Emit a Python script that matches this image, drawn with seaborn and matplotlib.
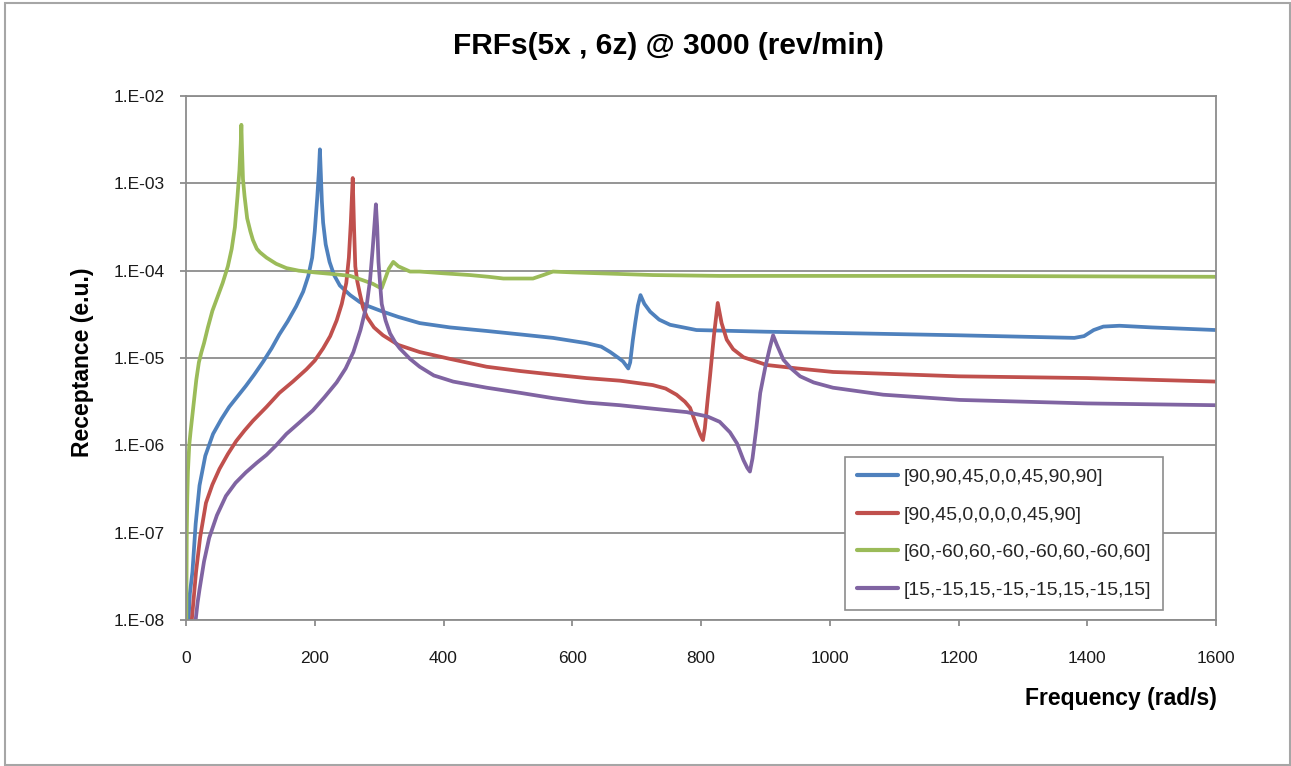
import numpy as np
import pandas as pd
import matplotlib
matplotlib.use("Agg")
import matplotlib.pyplot as plt
import seaborn as sns
from matplotlib.patches import Rectangle
from matplotlib.lines import Line2D
from matplotlib.ticker import NullLocator

# ---------------- data ----------------
series_labels = [
    "[90,90,45,0,0,45,90,90]",
    "[90,45,0,0,0,0,45,90]",
    "[60,-60,60,-60,-60,60,-60,60]",
    "[15,-15,15,-15,-15,15,-15,15]",
]
series_colors = ["#4F81BD", "#C0504D", "#9BBB59", "#8064A2"]

blue_freq = [4, 6, 10, 15, 21, 30, 42, 55, 67, 80, 93, 106, 120, 133, 145, 158, 171, 182,
             190, 196, 200, 204, 206.5, 208, 209.5, 211, 213, 217, 223, 230, 239, 255,
             270, 281, 306, 330, 363, 410, 467, 520, 570, 622, 645, 659, 672, 679, 684,
             687, 690, 694, 698, 702, 706, 712, 721, 735, 752, 793, 900, 1050, 1200,
             1380, 1395, 1410, 1425, 1450, 1500, 1600]
blue_rec = [1.0e-8, 2.0e-8, 3.55e-8, 1.26e-7, 3.47e-7, 7.6e-7, 1.35e-6, 2.0e-6, 2.75e-6,
            3.63e-6, 4.79e-6, 6.46e-6, 9.12e-6, 1.29e-5, 1.86e-5, 2.63e-5, 3.89e-5,
            5.75e-5, 8.71e-5, 1.41e-4, 2.82e-4, 7.08e-4, 1.41e-3, 2.45e-3, 1.26e-3,
            6.31e-4, 3.55e-4, 2.0e-4, 1.26e-4, 8.91e-5, 6.76e-5, 5.25e-5, 4.37e-5,
            3.98e-5, 3.39e-5, 2.95e-5, 2.51e-5, 2.24e-5, 2.04e-5, 1.86e-5, 1.70e-5,
            1.48e-5, 1.35e-5, 1.17e-5, 1.0e-5, 9.12e-6, 8.13e-6, 7.59e-6, 8.91e-6,
            1.58e-5, 2.57e-5, 3.98e-5, 5.25e-5, 4.17e-5, 3.39e-5, 2.75e-5, 2.40e-5,
            2.09e-5, 2.0e-5, 1.91e-5, 1.82e-5, 1.70e-5, 1.78e-5, 2.09e-5, 2.29e-5,
            2.34e-5, 2.24e-5, 2.09e-5]

red_freq = [9, 12, 15.6, 22, 31, 41, 52, 65, 78, 91, 104, 125, 145, 166, 187, 200, 213,
            224, 234, 242, 249, 253, 256, 259, 261, 263, 266, 270, 275, 281, 292, 306,
            330, 363, 410, 467, 520, 570, 622, 674, 725, 745, 762, 775, 783, 793, 799,
            803, 806, 810, 814, 820, 826, 832, 840, 850, 866, 902, 950, 1005, 1200,
            1400, 1600]
red_rec = [1.0e-8, 1.78e-8, 3.55e-8, 8.91e-8, 2.19e-7, 3.55e-7, 5.37e-7, 7.94e-7,
           1.12e-6, 1.48e-6, 1.91e-6, 2.75e-6, 3.98e-6, 5.37e-6, 7.41e-6, 9.33e-6,
           1.29e-5, 1.78e-5, 2.69e-5, 4.17e-5, 7.24e-5, 1.41e-4, 3.55e-4, 1.15e-3,
           3.16e-4, 1.12e-4, 7.59e-5, 5.50e-5, 3.80e-5, 2.95e-5, 2.24e-5, 1.82e-5,
           1.41e-5, 1.17e-5, 9.77e-6, 7.94e-6, 7.08e-6, 6.46e-6, 5.89e-6, 5.50e-6,
           4.90e-6, 4.47e-6, 3.80e-6, 3.16e-6, 2.69e-6, 1.70e-6, 1.32e-6, 1.15e-6,
           1.58e-6, 3.16e-6, 6.17e-6, 1.78e-5, 4.27e-5, 2.51e-5, 1.62e-5, 1.26e-5,
           1.02e-5, 8.32e-6, 7.59e-6, 6.92e-6, 6.17e-6, 5.89e-6, 5.37e-6]

green_freq = [0.5, 1.2, 2, 3, 5, 7, 10, 13, 16, 20, 24, 28, 34, 41, 49, 57, 65, 71, 76,
              80, 83, 85, 86, 87, 88.5, 91, 95, 100, 104, 110, 115, 125, 140, 156, 175,
              200, 230, 255, 275, 290, 300, 304, 308, 315, 322, 330, 348, 363, 400, 441,
              470, 493, 539, 555, 570, 601, 725, 829, 1200, 1600]
green_rec = [1.0e-8, 1.0e-7, 2.51e-7, 5.01e-7, 1.0e-6, 1.41e-6, 2.24e-6, 3.55e-6,
             5.62e-6, 8.91e-6, 1.17e-5, 1.48e-5, 2.24e-5, 3.47e-5, 5.01e-5, 7.24e-5,
             1.12e-4, 1.78e-4, 3.16e-4, 7.08e-4, 1.41e-3, 2.82e-3, 4.68e-3, 2.51e-3,
             1.12e-3, 7.08e-4, 3.98e-4, 2.82e-4, 2.24e-4, 1.78e-4, 1.62e-4, 1.41e-4,
             1.20e-4, 1.07e-4, 1.0e-4, 9.55e-5, 9.12e-5, 8.71e-5, 7.76e-5, 7.08e-5,
             6.46e-5, 6.31e-5, 7.59e-5, 1.05e-4, 1.26e-4, 1.12e-4, 9.77e-5, 9.77e-5,
             9.33e-5, 8.91e-5, 8.51e-5, 8.13e-5, 8.13e-5, 8.91e-5, 9.77e-5, 9.55e-5,
             8.91e-5, 8.71e-5, 8.71e-5, 8.51e-5]

purple_freq = [15, 18, 21, 28, 36, 48, 62, 77, 93, 110, 125, 140, 156, 176, 197, 215, 234,
               248, 260, 271, 281, 286, 290, 293, 295, 297, 299, 301.5, 304, 310, 317,
               325, 332, 348, 363, 385, 415, 467, 520, 570, 622, 674, 725, 778, 810, 829,
               845, 856, 866, 872, 876, 880, 886, 892, 900, 907, 912, 918, 928, 940, 954,
               975, 1005, 1083, 1202, 1400, 1600]
purple_rec = [1.0e-8, 1.58e-8, 2.24e-8, 4.68e-8, 8.71e-8, 1.58e-7, 2.63e-7, 3.72e-7,
              4.90e-7, 6.31e-7, 7.76e-7, 1.0e-6, 1.35e-6, 1.82e-6, 2.51e-6, 3.55e-6,
              5.25e-6, 7.59e-6, 1.17e-5, 2.09e-5, 4.17e-5, 7.94e-5, 1.78e-4, 3.55e-4,
              5.75e-4, 3.16e-4, 1.26e-4, 7.08e-5, 4.17e-5, 2.69e-5, 1.91e-5, 1.51e-5,
              1.29e-5, 9.77e-6, 7.94e-6, 6.31e-6, 5.37e-6, 4.57e-6, 3.98e-6, 3.47e-6,
              3.09e-6, 2.88e-6, 2.63e-6, 2.40e-6, 2.14e-6, 1.86e-6, 1.41e-6, 1.05e-6,
              6.76e-7, 5.50e-7, 5.01e-7, 7.08e-7, 1.58e-6, 3.98e-6, 7.94e-6, 1.32e-5,
              1.82e-5, 1.41e-5, 9.55e-6, 7.59e-6, 6.17e-6, 5.25e-6, 4.57e-6, 3.80e-6,
              3.31e-6, 3.02e-6, 2.88e-6]

y_ticks = [1e-8, 1e-7, 1e-6, 1e-5, 1e-4, 1e-3, 1e-2]
y_tick_labels = ["1.E-08", "1.E-07", "1.E-06", "1.E-05", "1.E-04", "1.E-03", "1.E-02"]
x_ticks = [0, 200, 400, 600, 800, 1000, 1200, 1400, 1600]

title = "FRFs(5x , 6z) @ 3000 (rev/min)"
x_label = "Frequency (rad/s)"
y_label = "Receptance (e.u.)"

# ---------------- build table ----------------
frames = []
for lab, fx, fy in zip(series_labels,
                       [blue_freq, red_freq, green_freq, purple_freq],
                       [blue_rec, red_rec, green_rec, purple_rec]):
    frames.append(pd.DataFrame({"freq": fx, "rec": fy, "series": lab}))
df = pd.concat(frames, ignore_index=True)

# ---------------- plot ----------------
sns.set_theme(style="white")
plt.rcParams['font.family'] = ['Liberation Sans', 'DejaVu Sans']

W, H = 1291, 766
fig = plt.figure(figsize=(W / 100, H / 100), dpi=100)
fig.patch.set_facecolor("white")
ax = fig.add_axes([186 / W, 1 - 620 / H, 1030 / W, 524 / H])

grid_c = "#8c8c8c"
sns.lineplot(data=df, x="freq", y="rec", hue="series", hue_order=series_labels,
             palette=dict(zip(series_labels, series_colors)), estimator=None,
             sort=False, linewidth=2.7, legend=False, ax=ax)
for ln in ax.lines:
    ln.set_solid_joinstyle("round")
    ln.set_solid_capstyle("round")

ax.set_yscale("log")
ax.set_xlim(0, 1600)
ax.set_ylim(1e-8, 1e-2)
ax.set_yticks(y_ticks)
ax.set_yticklabels(y_tick_labels)
ax.yaxis.set_minor_locator(NullLocator())
ax.set_xticks(x_ticks)
ax.set_xticklabels([str(v) for v in x_ticks])
ax.set_xlabel("")
ax.set_ylabel("")

ax.grid(axis="y", color=grid_c, linewidth=1.3)
ax.grid(axis="x", visible=False)
ax.set_axisbelow(True)
for sp in ax.spines.values():
    sp.set_visible(True)
    sp.set_color(grid_c)
    sp.set_linewidth(1.3)

ax.tick_params(axis="both", which="major", direction="out", length=4.5, width=1.3,
               color=grid_c, labelsize=12.5, labelcolor="#1a1a1a",
               bottom=True, left=True)
ax.tick_params(axis="y", pad=10.5)
ax.tick_params(axis="x", pad=18)

handles = [Line2D([0], [0], color=c, lw=3) for c in series_colors]
leg = ax.legend(handles, series_labels, loc="upper left",
                bbox_to_anchor=((845 - 186) / 1030, (620 - 457) / 524),
                borderaxespad=0, frameon=True, fancybox=False, framealpha=1,
                edgecolor="#8c8c8c", fontsize=14, labelspacing=1.02,
                handlelength=2.15, handletextpad=0.28, borderpad=0.6)
leg.get_frame().set_linewidth(1.2)

fig.text(668 / W, 1 - 46 / H, title, ha="center", va="center",
         fontsize=21.5, fontweight="bold", color="black")
fig.text(1217 / W, 1 - 699 / H, x_label, ha="right", va="center",
         fontsize=16.5, fontweight="bold", color="black")
fig.text(82 / W, 1 - 362 / H, y_label, ha="center", va="center", rotation=90,
         fontsize=16.5, fontweight="bold", color="black")

fig.patches.append(Rectangle((5 / W, 1 - 765 / H), 1285 / W, 762 / H,
                             transform=fig.transFigure, fill=False,
                             edgecolor="#a6a6a6", linewidth=1.5))

fig.savefig("out.png", dpi=100)
